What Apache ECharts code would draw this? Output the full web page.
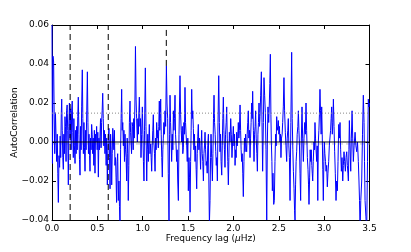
<!DOCTYPE html>
<html>
<head>
<meta charset="utf-8">
<script src="https://cdn.jsdelivr.net/npm/echarts@6/dist/echarts.min.js"></script>
<style>
html,body{margin:0;padding:0;background:#fff;}
#chart{width:411px;height:252px;}
</style>
</head>
<body>
<div id="chart"></div>
<script>
// Frequency lag (µHz) and autocorrelation values
const lags = [
0.000,0.005,0.011,0.018,0.024,0.030,0.038,0.045,0.051,0.058,0.064,0.070,0.077,0.084,0.090,0.096,0.102,0.107,0.113,0.119,
0.125,0.131,0.137,0.143,0.149,0.155,0.161,0.167,0.173,0.180,0.186,0.192,0.199,0.205,0.211,0.217,0.223,0.229,0.235,0.241,
0.247,0.254,0.260,0.266,0.272,0.278,0.284,0.290,0.297,0.303,0.309,0.315,0.321,0.327,0.334,0.340,0.346,0.352,0.358,0.364,
0.370,0.376,0.383,0.390,0.396,0.402,0.408,0.414,0.419,0.425,0.431,0.437,0.443,0.449,0.455,0.461,0.467,0.474,0.480,0.486,
0.492,0.498,0.505,0.511,0.517,0.523,0.529,0.535,0.541,0.547,0.553,0.559,0.565,0.571,0.577,0.584,0.590,0.597,0.603,0.610,
0.616,0.622,0.628,0.634,0.640,0.646,0.652,0.658,0.664,0.670,0.676,0.682,0.688,0.694,0.700,0.706,0.712,0.718,0.724,0.731,
0.738,0.744,0.750,0.756,0.762,0.768,0.774,0.780,0.787,0.793,0.799,0.805,0.811,0.817,0.823,0.829,0.835,0.841,0.847,0.853,
0.860,0.866,0.871,0.877,0.883,0.889,0.895,0.901,0.907,0.914,0.920,0.927,0.933,0.941,0.947,0.952,0.958,0.963,0.969,0.975,
0.981,0.988,0.996,1.002,1.008,1.014,1.020,1.029,1.036,1.044,1.050,1.056,1.062,1.068,1.073,1.080,1.088,1.093,1.099,1.105,
1.111,1.117,1.123,1.130,1.136,1.142,1.148,1.154,1.160,1.166,1.172,1.177,1.183,1.188,1.193,1.198,1.204,1.210,1.216,1.222,
1.227,1.233,1.240,1.246,1.253,1.261,1.268,1.275,1.282,1.290,1.296,1.301,1.307,1.313,1.319,1.326,1.332,1.338,1.344,1.350,
1.356,1.362,1.368,1.374,1.380,1.386,1.393,1.400,1.411,1.418,1.424,1.430,1.436,1.442,1.448,1.454,1.460,1.466,1.472,1.478,
1.485,1.491,1.497,1.503,1.510,1.516,1.522,1.528,1.534,1.540,1.546,1.552,1.558,1.564,1.570,1.577,1.583,1.589,1.595,1.601,
1.607,1.613,1.619,1.626,1.632,1.638,1.644,1.650,1.656,1.662,1.669,1.675,1.681,1.687,1.693,1.699,1.705,1.711,1.717,1.724,
1.729,1.735,1.742,1.748,1.753,1.760,1.768,1.774,1.780,1.786,1.792,1.799,1.805,1.811,1.817,1.823,1.830,1.838,1.845,1.852,
1.858,1.864,1.871,1.877,1.883,1.889,1.895,1.901,1.907,1.913,1.920,1.926,1.932,1.938,1.944,1.950,1.955,1.962,1.970,1.977,
1.984,1.991,1.999,2.006,2.012,2.018,2.024,2.030,2.036,2.042,2.048,2.054,2.060,2.066,2.073,2.079,2.085,2.091,2.097,2.103,
2.109,2.116,2.122,2.128,2.134,2.140,2.146,2.152,2.158,2.164,2.170,2.177,2.183,2.189,2.195,2.201,2.207,2.212,2.220,2.227,
2.233,2.239,2.245,2.251,2.258,2.264,2.270,2.276,2.282,2.288,2.293,2.300,2.308,2.315,2.322,2.330,2.337,2.344,2.352,2.359,
2.367,2.374,2.381,2.389,2.396,2.401,2.407,2.413,2.418,2.424,2.429,2.436,2.444,2.451,2.458,2.465,2.471,2.477,2.483,2.489,
2.495,2.501,2.507,2.513,2.519,2.524,2.530,2.537,2.543,2.550,2.557,2.564,2.572,2.579,2.587,2.593,2.599,2.605,2.611,2.617,
2.624,2.633,2.642,2.648,2.655,2.661,2.668,2.674,2.679,2.685,2.691,2.697,2.703,2.710,2.716,2.722,2.727,2.734,2.741,2.748,
2.756,2.763,2.771,2.778,2.786,2.793,2.800,2.807,2.815,2.822,2.828,2.833,2.840,2.846,2.852,2.858,2.864,2.869,2.874,2.880,
2.888,2.894,2.899,2.905,2.911,2.918,2.924,2.930,2.936,2.942,2.948,2.954,2.960,2.967,2.973,2.979,2.985,2.991,2.997,3.002,
3.008,3.015,3.021,3.028,3.035,3.042,3.050,3.057,3.065,3.071,3.077,3.083,3.090,3.096,3.102,3.109,3.116,3.123,3.131,3.138,
3.146,3.153,3.161,3.168,3.175,3.182,3.190,3.197,3.205,3.212,3.219,3.226,3.234,3.241,3.249,3.256,3.262,3.267,3.273,3.278,
3.285,3.293,3.300,3.308,3.315,3.322,3.330,3.341,3.350,3.359,3.368,3.377,3.384,3.390,3.396,3.404,3.414,3.423,3.432,3.440,
3.445,3.451,3.460,3.469,3.478,3.487,3.493,3.500
];
const acf = [
0.060,-0.011,0.044,0.041,0.014,-0.006,0.015,0.002,-0.010,0.004,-0.016,-0.031,-0.007,-0.013,0.003,-0.008,0.014,0.022,0.006,-0.008,
-0.014,0.004,-0.006,0.013,0.008,-0.010,0.016,0.019,0.006,-0.022,0.008,0.020,0.002,0.017,-0.004,0.016,0.021,0.005,-0.008,0.012,
-0.002,-0.011,0.006,-0.006,0.008,-0.004,0.013,0.023,0.004,-0.009,-0.017,0.008,-0.004,0.018,0.037,0.012,-0.006,0.010,-0.003,-0.015,
0.006,-0.004,0.016,0.036,0.010,-0.006,0.004,-0.007,-0.015,0.002,-0.004,0.009,0.004,-0.006,0.002,-0.012,0.006,-0.016,0.004,0.000,
0.008,-0.004,0.005,-0.018,0.002,-0.004,0.003,0.012,-0.003,0.010,0.016,0.025,0.012,-0.002,0.006,-0.006,0.004,-0.012,0.002,-0.022,
-0.004,0.003,0.007,-0.008,-0.024,0.004,-0.004,-0.022,-0.006,0.007,0.008,-0.004,0.006,-0.012,-0.008,-0.018,-0.031,-0.010,-0.006,-0.030,
-0.020,-0.033,-0.044,-0.004,0.012,0.027,0.006,0.010,-0.002,0.006,-0.010,0.004,-0.004,-0.008,-0.020,0.002,-0.006,-0.030,-0.012,0.010,
0.021,0.005,0.005,-0.006,0.010,0.008,-0.004,0.012,0.002,0.020,0.049,0.022,0.012,0.000,0.012,0.004,0.016,0.023,0.008,0.012,
-0.008,0.004,0.018,0.004,-0.010,-0.020,0.006,0.038,0.008,-0.020,-0.004,0.004,-0.010,0.002,0.009,-0.006,-0.001,-0.008,-0.015,-0.002,
0.006,0.014,0.000,-0.006,-0.015,0.002,-0.004,0.010,0.002,0.006,-0.003,0.008,0.021,0.006,0.012,0.022,0.004,-0.008,-0.018,-0.004,
0.002,0.010,0.004,0.016,0.008,0.039,0.020,0.012,-0.016,-0.042,0.004,0.024,0.010,0.002,-0.010,0.004,-0.004,0.016,0.006,0.012,
0.024,0.004,-0.002,-0.010,-0.004,-0.020,-0.030,0.004,0.034,0.014,0.006,0.000,0.008,-0.006,-0.003,0.010,0.004,0.028,0.010,0.004,
-0.002,-0.010,0.002,-0.025,-0.008,-0.018,-0.036,-0.010,0.006,0.027,0.012,0.016,0.007,-0.004,0.004,-0.010,-0.002,-0.014,-0.024,-0.006,
0.003,0.009,-0.004,0.002,-0.005,-0.014,-0.002,0.006,-0.006,-0.010,-0.020,-0.006,-0.002,0.005,-0.004,-0.012,-0.010,-0.016,-0.002,0.004,
-0.020,-0.042,-0.030,-0.008,0.004,-0.008,-0.020,-0.006,0.012,0.024,0.010,0.004,-0.005,-0.012,-0.008,-0.020,0.010,0.034,0.010,-0.005,
0.004,-0.010,-0.017,-0.002,0.012,0.023,0.006,-0.004,-0.013,0.004,0.010,0.018,0.002,-0.010,-0.022,-0.008,0.005,0.000,0.012,0.004,
-0.008,0.000,0.008,-0.002,0.004,-0.012,-0.004,-0.008,0.005,-0.002,0.003,0.010,0.002,0.006,0.019,0.006,-0.004,-0.010,-0.006,-0.016,
-0.028,-0.010,0.002,-0.005,0.004,-0.002,-0.005,0.004,0.010,0.016,0.002,0.006,-0.008,0.002,0.010,0.020,0.012,0.026,0.006,-0.010,
0.004,0.008,0.016,0.002,-0.006,-0.015,0.004,0.010,0.020,0.008,0.013,0.024,0.036,0.010,-0.015,0.010,0.033,0.024,0.015,-0.004,
-0.040,0.000,0.018,0.010,0.020,0.030,0.045,0.014,0.000,-0.010,-0.025,-0.016,-0.032,-0.030,-0.010,0.004,-0.002,0.013,0.006,0.008,
0.011,0.004,0.008,0.000,0.004,-0.008,0.002,0.004,0.010,0.018,0.033,0.016,0.005,-0.002,-0.010,0.002,0.006,0.012,-0.002,-0.008,
-0.030,0.010,0.046,0.012,-0.004,-0.015,-0.024,-0.035,-0.040,-0.022,-0.010,-0.005,0.004,0.008,0.016,0.006,0.000,-0.016,-0.030,0.000,
0.018,0.002,-0.010,0.002,0.010,0.004,0.020,0.006,-0.008,-0.014,-0.022,-0.032,-0.018,-0.004,-0.010,-0.004,-0.012,-0.016,-0.020,-0.010,
0.000,-0.004,0.010,0.002,-0.004,-0.010,-0.002,-0.030,0.000,0.006,0.014,0.027,0.016,0.004,0.018,0.004,-0.014,-0.030,-0.010,0.000,
-0.006,-0.010,-0.015,-0.012,-0.023,-0.016,-0.010,-0.002,-0.003,0.006,0.012,0.018,0.004,0.010,0.022,0.008,-0.005,-0.016,-0.030,-0.020,
-0.025,-0.010,0.009,0.002,0.010,-0.004,-0.015,-0.008,-0.020,-0.012,-0.005,-0.010,-0.015,-0.008,-0.005,-0.012,-0.016,-0.020,-0.004,0.011,
-0.002,-0.015,0.002,0.016,0.002,-0.010,-0.002,0.005,-0.002,-0.005,0.000,-0.010,-0.020,-0.030,-0.046,-0.030,-0.020,0.004,0.024,0.010,
-0.010,-0.030,-0.038,-0.046,-0.010,0.022,0.018,0.020
];
// Reference lines
const vLinesFull = [0.2, 0.62];
const vLinePeak = {lag: 1.26, from: 0.039};
const zeroLine = 0;
const dottedLevel = 0.0148;
const dashedLevel = -0.001;
// Axis ticks
const xTicks = {min: 0, max: 3.5, step: 0.5};
const yTicks = {min: -0.04, max: 0.06, step: 0.02};

const data = lags.map((x, i) => [x, acf[i]]);
const font = 'DejaVu Sans';
const fmtY = v => (v < 0 ? '\u2212' : '') + Math.abs(v).toFixed(2);
const fmtX = v => v.toFixed(1);

function axisBase(extra) {
  return Object.assign({
    type: 'value',
    axisLine: {show: true, onZero: false, lineStyle: {color: '#000', width: 1}},
    axisTick: {show: true, inside: true, length: 4, lineStyle: {color: '#000', width: 1}},
    splitLine: {show: false},
    axisLabel: {show: false}
  }, extra);
}

function refLine(points, color, type, z) {
  return {
    type: 'line', data: points, showSymbol: false, silent: true, z: z,
    clip: true, animation: false, emphasis: {disabled: true},
    lineStyle: {color: color, width: 1, type: type}
  };
}

const hSeries = [
  refLine([[xTicks.min, dashedLevel], [xTicks.max, dashedLevel]], '#bbbbbb', [4, 3], 1),
  refLine([[xTicks.min, dottedLevel], [xTicks.max, dottedLevel]], '#888888', [1, 2], 3),
  refLine([[xTicks.min, zeroLine], [xTicks.max, zeroLine]], '#000000', 'solid', 4)
];
const vSeries = vLinesFull.map(v => refLine([[v, yTicks.min], [v, yTicks.max]], '#000000', [6, 4], 3))
  .concat([refLine([[vLinePeak.lag, vLinePeak.from], [vLinePeak.lag, yTicks.max]], '#000000', [6, 4], 3)]);

const chart = echarts.init(document.getElementById('chart'), null, {renderer: 'canvas'});
chart.setOption({
  animation: false,
  backgroundColor: '#fff',
  grid: {left: 52, right: 41.5, top: 25, bottom: 32, containLabel: false, outerBoundsMode: 'none'},
  xAxis: [
    axisBase({
      position: 'bottom', min: xTicks.min, max: xTicks.max, interval: xTicks.step,
      axisLabel: {show: true, formatter: fmtX, fontFamily: font, fontSize: 9, color: '#000', margin: 4},
      name: '{a|Frequency lag (}{b|\u03bc}{a|Hz)}',
      nameLocation: 'middle', nameGap: 14, nameMoveOverlap: false,
      nameTextStyle: {rich: {
        a: {fontFamily: font, fontSize: 9, color: '#000'},
        b: {fontFamily: font, fontSize: 9, color: '#000', fontStyle: 'italic'}
      }}
    }),
    axisBase({position: 'top', min: xTicks.min, max: xTicks.max, interval: xTicks.step})
  ],
  yAxis: [
    axisBase({
      position: 'left', min: yTicks.min, max: yTicks.max, interval: yTicks.step,
      axisLabel: {show: true, formatter: fmtY, fontFamily: font, fontSize: 9, color: '#000', margin: 3},
      name: 'AutoCorrelation', nameLocation: 'middle', nameGap: 33, nameRotate: 90, nameMoveOverlap: false,
      nameTextStyle: {fontFamily: font, fontSize: 9, color: '#000'}
    }),
    axisBase({position: 'right', min: yTicks.min, max: yTicks.max, interval: yTicks.step})
  ],
  series: [
    {
      type: 'line', data: data, showSymbol: false, clip: true, z: 2,
      lineStyle: {color: '#0000ff', width: 1}, itemStyle: {color: '#0000ff'},
      emphasis: {disabled: true}
    }
  ].concat(hSeries, vSeries)
});
</script>
</body>
</html>
